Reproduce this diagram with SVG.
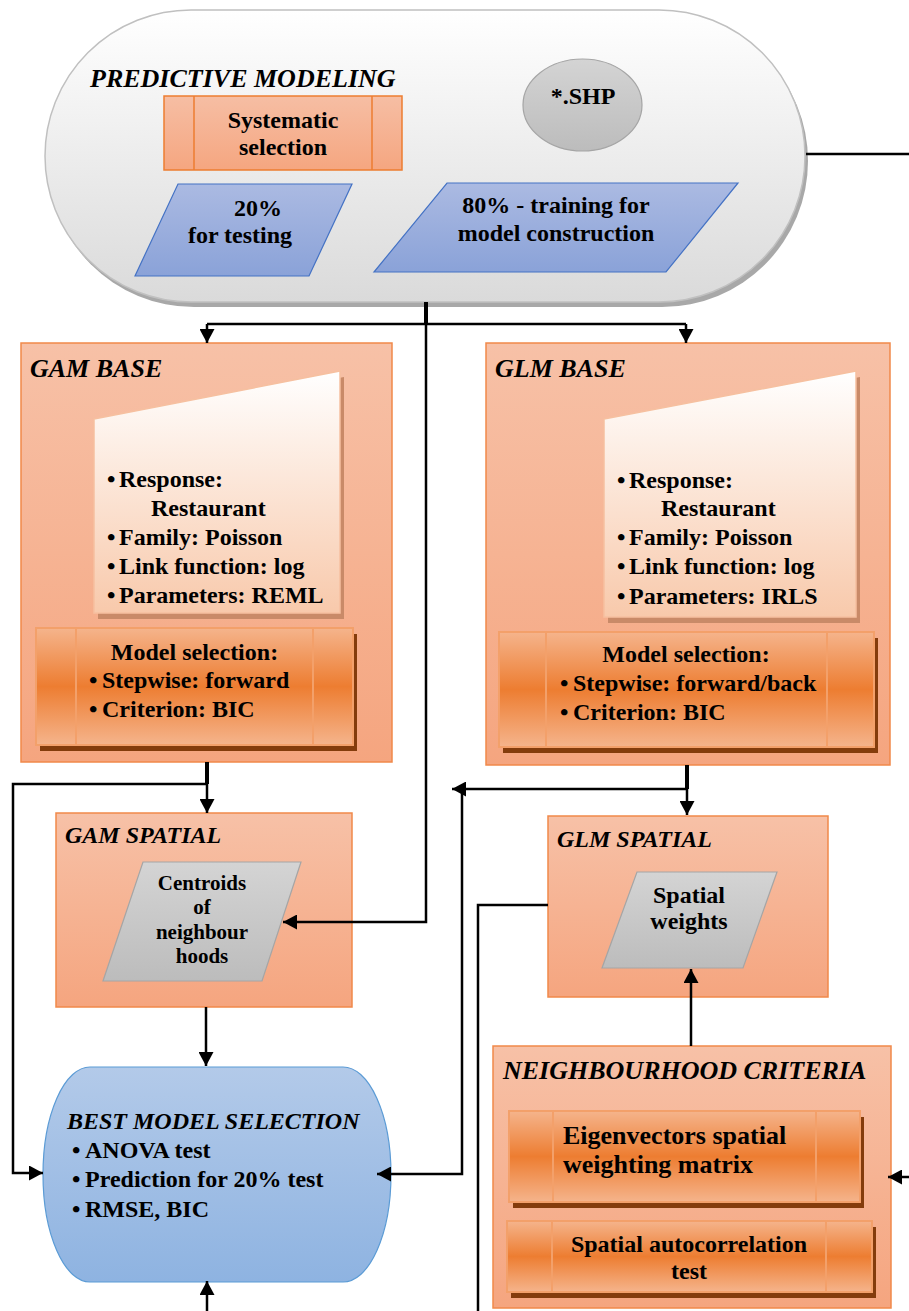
<svg xmlns="http://www.w3.org/2000/svg" width="909" height="1311" viewBox="0 0 909 1311">
<defs>
<linearGradient id="gTerm" x1="0" y1="0" x2="0" y2="1"><stop offset="0" stop-color="#ffffff"/><stop offset="1" stop-color="#dadada"/></linearGradient>
<linearGradient id="gBox" x1="0" y1="0" x2="0" y2="1"><stop offset="0" stop-color="#f7c1a7"/><stop offset="1" stop-color="#f5a57f"/></linearGradient>
<linearGradient id="gSys" x1="0" y1="0" x2="0" y2="1"><stop offset="0" stop-color="#f6bea4"/><stop offset="1" stop-color="#f5a680"/></linearGradient>
<linearGradient id="gPre" x1="0" y1="0" x2="0" y2="1"><stop offset="0" stop-color="#f5b48c"/><stop offset="0.5" stop-color="#ed7d31"/><stop offset="1" stop-color="#f5b48c"/></linearGradient>
<linearGradient id="gMan" x1="0" y1="0" x2="0" y2="1"><stop offset="0" stop-color="#ffffff"/><stop offset="1" stop-color="#f8c9ab"/></linearGradient>
<linearGradient id="gBlue" x1="0" y1="0" x2="0" y2="1"><stop offset="0" stop-color="#abbae2"/><stop offset="1" stop-color="#8aa2d8"/></linearGradient>
<linearGradient id="gGray" x1="0" y1="0" x2="0" y2="1"><stop offset="0" stop-color="#d4d4d4"/><stop offset="1" stop-color="#bcbcbc"/></linearGradient>
<linearGradient id="gBest" x1="0" y1="0" x2="0" y2="1"><stop offset="0" stop-color="#b3cae9"/><stop offset="1" stop-color="#8eb3e1"/></linearGradient>
<marker id="arr" viewBox="0 0 14 15" refX="14" refY="7.5" markerWidth="14" markerHeight="15" orient="auto" markerUnits="userSpaceOnUse"><path d="M0,0 L14,7.5 L0,15 Z" fill="#000"/></marker>
<style>
text{font-family:"Liberation Serif","Times New Roman",serif;font-weight:bold;fill:#000}
.h{font-style:italic;font-size:26px}
.h24{font-style:italic;font-size:24px}
.t{font-size:24px}
.c{text-anchor:middle}
.box{fill:url(#gBox);stroke:#f1894a;stroke-width:1.5}
.pre{fill:url(#gPre);stroke:#f3a06a;stroke-width:2}
.preline{stroke:#f3a06a;stroke-width:2;fill:none}
.shd{fill:#843c0c}
.man{fill:url(#gMan);stroke:#f6c0a0;stroke-width:1.5}
.manshd{fill:#c98a68}
.blue{fill:url(#gBlue);stroke:#4472c4;stroke-width:1.2}
.gray{fill:url(#gGray);stroke:#a5a5a5;stroke-width:1.2}
.conn{fill:none;stroke:#000;stroke-width:2.5}
.thick{fill:none;stroke:#000;stroke-width:4}
</style>
</defs>

<g id="predictive-modeling">
<rect x="48" y="15" width="760" height="292" rx="146" fill="#a8a8a8"/>
<rect x="45" y="10" width="760" height="292" rx="146" fill="url(#gTerm)" stroke="#c0c0c0" stroke-width="1.5"/>
<text class="h" x="90" y="87">PREDICTIVE MODELING</text>
</g>

<g id="systematic-selection">
<rect x="164" y="96" width="238" height="74" fill="url(#gSys)" stroke="#ed7d31" stroke-width="1.5"/>
<line x1="194" y1="96" x2="194" y2="170" stroke="#ed7d31" stroke-width="1.5"/>
<line x1="372" y1="96" x2="372" y2="170" stroke="#ed7d31" stroke-width="1.5"/>
<text class="t c" x="283" y="128">Systematic</text>
<text class="t c" x="283" y="155">selection</text>
</g>

<g id="shp">
<ellipse cx="582.5" cy="105" rx="59.5" ry="46" class="gray"/>
<text class="t c" x="583" y="104">*.SHP</text>
</g>

<g id="testing-20">
<polygon points="178,184 352,184 309,276 135,276" class="blue"/>
<text class="t c" x="258" y="216">20%</text>
<text class="t c" x="240" y="243">for testing</text>
</g>

<g id="training-80">
<polygon points="447,183 738,183 666,272 374,272" class="blue"/>
<text class="t c" x="556" y="213">80% - training for</text>
<text class="t c" x="556" y="241">model construction</text>
</g>

<g id="gam-base">
<rect x="21" y="343" width="371" height="419" class="box"/>
<text class="h" x="30" y="377">GAM BASE</text>
<polygon points="98,425 344,377 344,619 98,619" class="manshd"/>
<polygon points="94,419 340,371 340,613 94,613" class="man"/>
<text class="t"><tspan x="107" y="487">•</tspan><tspan x="119" y="487">Response:</tspan></text>
<text class="t" x="151" y="516">Restaurant</text>
<text class="t"><tspan x="107" y="545">•</tspan><tspan x="119" y="545">Family: Poisson</tspan></text>
<text class="t"><tspan x="107" y="574">•</tspan><tspan x="119" y="574">Link function: log</tspan></text>
<text class="t"><tspan x="107" y="603">•</tspan><tspan x="119" y="603">Parameters: REML</tspan></text>
<rect x="40" y="634" width="317" height="117" class="shd"/>
<rect x="36" y="628" width="317" height="117" class="pre"/>
<line x1="76" y1="628" x2="76" y2="745" class="preline"/>
<line x1="313" y1="628" x2="313" y2="745" class="preline"/>
<text class="t c" x="194.5" y="660">Model selection:</text>
<text class="t"><tspan x="89" y="688">•</tspan><tspan x="102" y="688">Stepwise: forward</tspan></text>
<text class="t"><tspan x="89" y="717">•</tspan><tspan x="102" y="717">Criterion: BIC</tspan></text>
</g>

<g id="glm-base">
<rect x="486" y="343" width="404" height="422" class="box"/>
<text class="h" x="495" y="377">GLM BASE</text>
<polygon points="608,425 860,377 860,623 608,623" class="manshd"/>
<polygon points="604,419 856,371 856,617 604,617" class="man"/>
<text class="t"><tspan x="617" y="488">•</tspan><tspan x="629" y="488">Response:</tspan></text>
<text class="t" x="661" y="516">Restaurant</text>
<text class="t"><tspan x="617" y="545">•</tspan><tspan x="629" y="545">Family: Poisson</tspan></text>
<text class="t"><tspan x="617" y="574">•</tspan><tspan x="629" y="574">Link function: log</tspan></text>
<text class="t"><tspan x="617" y="604">•</tspan><tspan x="629" y="604">Parameters: IRLS</tspan></text>
<rect x="503" y="638" width="375" height="115" class="shd"/>
<rect x="499" y="632" width="375" height="115" class="pre"/>
<line x1="546" y1="632" x2="546" y2="747" class="preline"/>
<line x1="827" y1="632" x2="827" y2="747" class="preline"/>
<text class="t c" x="686" y="662">Model selection:</text>
<text class="t"><tspan x="560" y="691">•</tspan><tspan x="573" y="691">Stepwise: forward/back</tspan></text>
<text class="t"><tspan x="560" y="720">•</tspan><tspan x="573" y="720">Criterion: BIC</tspan></text>
</g>

<g id="gam-spatial">
<rect x="56" y="813" width="296" height="194" class="box"/>
<text class="h24" x="65" y="843">GAM SPATIAL</text>
<polygon points="143,862 301,862 262,981 103,981" class="gray"/>
<text class="c" style="font-size:21px" x="202" y="890">Centroids</text>
<text class="c" style="font-size:21px" x="202" y="914">of</text>
<text class="c" style="font-size:21px" x="202" y="939">neighbour</text>
<text class="c" style="font-size:21px" x="202" y="963">hoods</text>
</g>

<g id="glm-spatial">
<rect x="548" y="816" width="280" height="181" class="box"/>
<text class="h24" x="557" y="847">GLM SPATIAL</text>
<polygon points="637,872 777,872 743,968 602,968" class="gray"/>
<text class="t c" x="689" y="903">Spatial</text>
<text class="t c" x="689" y="929">weights</text>
</g>

<g id="best-model-selection">
<path d="M90,1067 H343 A48,107.5 0 0 1 343,1282 H90 A47,107.5 0 0 1 90,1067 Z" fill="url(#gBest)" stroke="#5b9bd5" stroke-width="1.2"/>
<text class="h24" x="67" y="1129">BEST MODEL SELECTION</text>
<text class="t"><tspan x="72" y="1158">•</tspan><tspan x="85" y="1158">ANOVA test</tspan></text>
<text class="t"><tspan x="72" y="1187">•</tspan><tspan x="85" y="1187">Prediction for 20% test</tspan></text>
<text class="t"><tspan x="72" y="1217">•</tspan><tspan x="85" y="1217">RMSE, BIC</tspan></text>
</g>

<g id="neighbourhood-criteria">
<rect x="493" y="1046" width="398" height="262" class="box"/>
<text class="h" x="503" y="1079">NEIGHBOURHOOD CRITERIA</text>
<rect x="513" y="1117" width="351" height="91" class="shd"/>
<rect x="509" y="1111" width="351" height="91" class="pre"/>
<line x1="553" y1="1111" x2="553" y2="1202" class="preline"/>
<line x1="816" y1="1111" x2="816" y2="1202" class="preline"/>
<text style="font-size:26px" x="563" y="1144">Eigenvectors spatial</text>
<text style="font-size:26px" x="563" y="1173">weighting matrix</text>
<rect x="511" y="1227" width="365" height="71" class="shd"/>
<rect x="507" y="1221" width="365" height="71" class="pre"/>
<line x1="552" y1="1221" x2="552" y2="1292" class="preline"/>
<line x1="826" y1="1221" x2="826" y2="1292" class="preline"/>
<text class="t c" x="689" y="1252">Spatial autocorrelation</text>
<text class="t c" x="689" y="1279">test</text>
</g>

<g id="connectors">
<path class="thick" d="M426,302 V324"/>
<path class="conn" d="M207,324 H686"/>
<path class="conn" d="M207,324 V343" marker-end="url(#arr)"/>
<path class="conn" d="M686,324 V343" marker-end="url(#arr)"/>
<path class="conn" d="M426,324 V922 H283" marker-end="url(#arr)"/>
<path class="conn" d="M806,154 H909"/>
<path class="conn" d="M909,1177 H888" marker-end="url(#arr)"/>
<path class="thick" d="M207,762 V784"/>
<path class="conn" d="M207,784 H13 V1173 H43" marker-end="url(#arr)"/>
<path class="conn" d="M207,784 V813" marker-end="url(#arr)"/>
<path class="thick" d="M687,765 V789"/>
<path class="conn" d="M687,789 H452" marker-end="url(#arr)"/>
<path class="conn" d="M687,789 V815" marker-end="url(#arr)"/>
<path class="conn" d="M462,789 V1174 H377" marker-end="url(#arr)"/>
<path class="conn" d="M206,1007 V1066" marker-end="url(#arr)"/>
<path class="conn" d="M207,1311 V1281" marker-end="url(#arr)"/>
<path class="conn" d="M548,905 H478 V1311"/>
<path class="conn" d="M691,1046 V969" marker-end="url(#arr)"/>
</g>
</svg>
